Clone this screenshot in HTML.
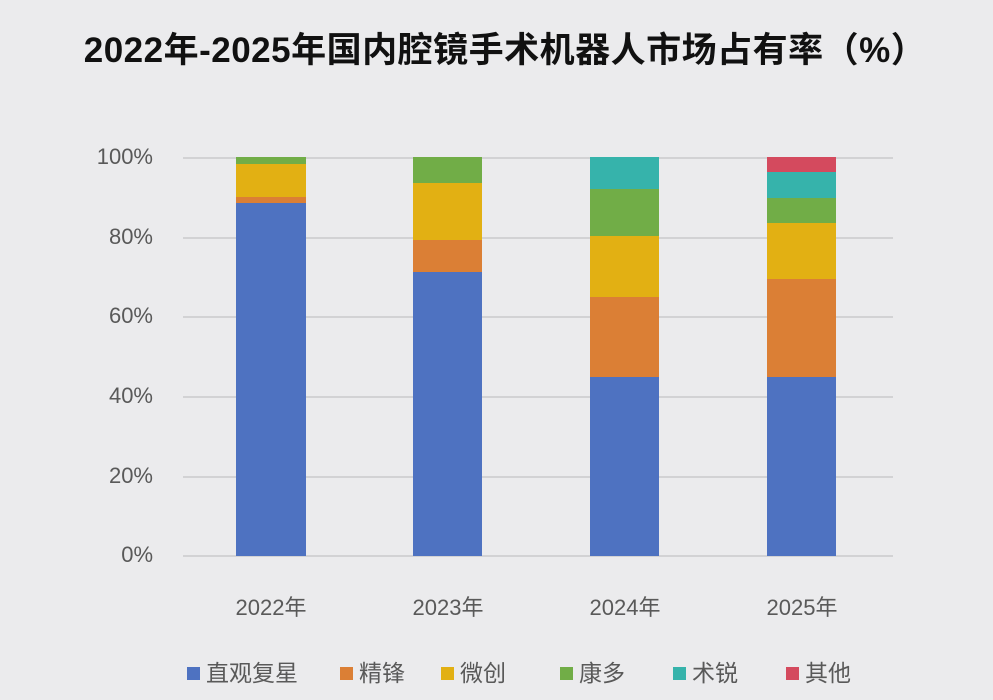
<!DOCTYPE html><html><head><meta charset="utf-8"><style>
body{margin:0;width:993px;height:700px;background:#ebebed;position:relative;overflow:hidden;font-family:"Liberation Sans","Noto Sans CJK SC",sans-serif}
.a{position:absolute}
.g{position:absolute;left:183px;width:710px;height:2px;background:#d2d2d4}
.y{position:absolute;left:60px;width:93px;text-align:right;font-size:22px;color:#595959}
.x{position:absolute;top:590px;width:140px;text-align:center;font-size:22px;color:#595959}
.lg{position:absolute;top:654px;font-size:23px;color:#595959;white-space:nowrap}
.lg i{display:inline-block;width:13px;height:13px;margin-right:6px;vertical-align:1px}
</style></head><body>
<div class="a" style="top:22px;left:0;width:1010px;text-align:center;font-size:35px;font-weight:bold;color:#111;letter-spacing:0.5px">2022年-2025年国内腔镜手术机器人市场占有率（%）</div>
<div class="g" style="top:157px"></div><div class="g" style="top:237px"></div><div class="g" style="top:316px"></div><div class="g" style="top:396px"></div><div class="g" style="top:476px"></div><div class="g" style="top:555px"></div>
<div class="y" style="top:144px">100%</div><div class="y" style="top:224px">80%</div><div class="y" style="top:303px">60%</div><div class="y" style="top:383px">40%</div><div class="y" style="top:463px">20%</div><div class="y" style="top:542px">0%</div>
<div class="a" style="left:236px;width:70px;top:157px;height:7px;background:#71ad47"></div>
<div class="a" style="left:236px;width:70px;top:164px;height:33px;background:#e2b013"></div>
<div class="a" style="left:236px;width:70px;top:197px;height:6px;background:#db7f35"></div>
<div class="a" style="left:236px;width:70px;top:203px;height:353px;background:#4e72c1"></div>
<div class="a" style="left:413px;width:69px;top:157px;height:26px;background:#71ad47"></div>
<div class="a" style="left:413px;width:69px;top:183px;height:57px;background:#e2b013"></div>
<div class="a" style="left:413px;width:69px;top:240px;height:32px;background:#db7f35"></div>
<div class="a" style="left:413px;width:69px;top:272px;height:284px;background:#4e72c1"></div>
<div class="a" style="left:590px;width:69px;top:157px;height:32px;background:#36b3ab"></div>
<div class="a" style="left:590px;width:69px;top:189px;height:47px;background:#71ad47"></div>
<div class="a" style="left:590px;width:69px;top:236px;height:61px;background:#e2b013"></div>
<div class="a" style="left:590px;width:69px;top:297px;height:80px;background:#db7f35"></div>
<div class="a" style="left:590px;width:69px;top:377px;height:179px;background:#4e72c1"></div>
<div class="a" style="left:767px;width:69px;top:157px;height:15px;background:#d44a5e"></div>
<div class="a" style="left:767px;width:69px;top:172px;height:26px;background:#36b3ab"></div>
<div class="a" style="left:767px;width:69px;top:198px;height:25px;background:#71ad47"></div>
<div class="a" style="left:767px;width:69px;top:223px;height:56px;background:#e2b013"></div>
<div class="a" style="left:767px;width:69px;top:279px;height:98px;background:#db7f35"></div>
<div class="a" style="left:767px;width:69px;top:377px;height:179px;background:#4e72c1"></div>
<div class="x" style="left:201px">2022年</div><div class="x" style="left:378px">2023年</div><div class="x" style="left:555px">2024年</div><div class="x" style="left:732px">2025年</div>
<div class="lg" style="left:187px"><i style="background:#4e72c1"></i>直观复星</div>
<div class="lg" style="left:340px"><i style="background:#db7f35"></i>精锋</div>
<div class="lg" style="left:441px"><i style="background:#e2b013"></i>微创</div>
<div class="lg" style="left:560px"><i style="background:#71ad47"></i>康多</div>
<div class="lg" style="left:673px"><i style="background:#36b3ab"></i>术锐</div>
<div class="lg" style="left:786px"><i style="background:#d44a5e"></i>其他</div>
</body></html>
